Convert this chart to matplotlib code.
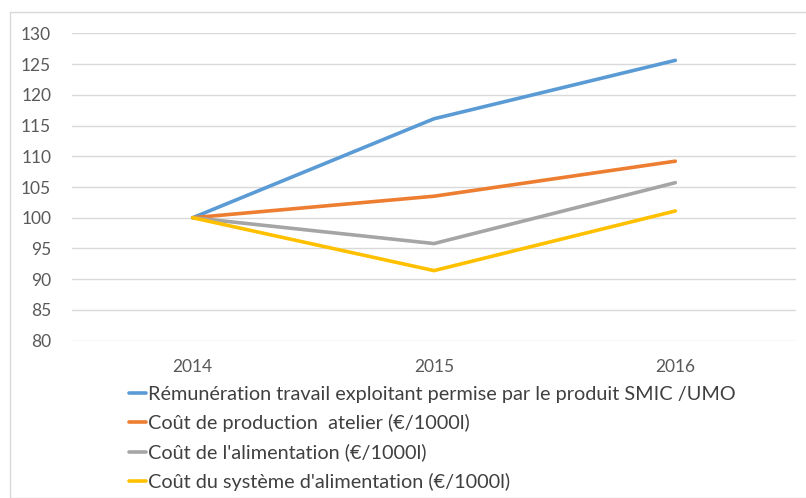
import matplotlib
matplotlib.use("Agg")
import matplotlib.pyplot as plt
from matplotlib.patches import Rectangle

years = ["2014", "2015", "2016"]
remuneration = [100, 116.1, 125.6]
cout_production = [100, 103.5, 109.2]
cout_alimentation = [100, 95.8, 105.7]
cout_systeme = [100, 91.4, 101.1]
labels = [
    "Rémunération travail exploitant permise par le produit SMIC /UMO",
    "Coût de production  atelier (€/1000l)",
    "Coût de l'alimentation (€/1000l)",
    "Coût du système d'alimentation (€/1000l)",
]
colors = ["#5B9BD5", "#ED7D31", "#A5A5A5", "#FFC000"]
yticks = list(range(80, 131, 5))

plt.rcParams['font.family'] = ['Lato', 'DejaVu Sans']

W, H = 806, 498
fig = plt.figure(figsize=(W / 100, H / 100), dpi=100)
fig.patches.append(Rectangle((10 / W, 0), 1, 1 - 12 / H, transform=fig.transFigure,
                             fill=False, edgecolor="#D9D9D9", linewidth=1))

ax = fig.add_axes([72 / W, 1 - 340.7 / H, 724 / W, 307.4 / H])
series = [remuneration, cout_production, cout_alimentation, cout_systeme]
x = list(range(len(years)))
handles = []
for vals, c, lab in zip(series, colors, labels):
    ln, = ax.plot(x, vals, color=c, linewidth=2.6, solid_capstyle='round', label=lab)
    handles.append(ln)

ax.set_xlim(-0.5, 2.5)
ax.set_ylim(80, 130)
ax.set_yticks(yticks)
ax.set_xticks(x)
ax.set_xticklabels(years)
ax.grid(axis='y', color="#D9D9D9", linewidth=1)
ax.set_axisbelow(True)
for s in ax.spines.values():
    s.set_visible(False)
ax.tick_params(axis='both', length=0, labelsize=12.5, labelcolor="#595959")
ax.tick_params(axis='y', pad=15)
ax.tick_params(axis='x', pad=13)

leg = fig.legend(handles=handles, loc='upper left', bbox_to_anchor=(129 / W, 1 - 386 / H),
                 frameon=False, fontsize=14.3, handlelength=0.85, handletextpad=0.1,
                 labelspacing=0.57, borderaxespad=0, borderpad=0)
for t in leg.get_texts():
    t.set_color("#404040")

fig.savefig("out.png", dpi=100)
